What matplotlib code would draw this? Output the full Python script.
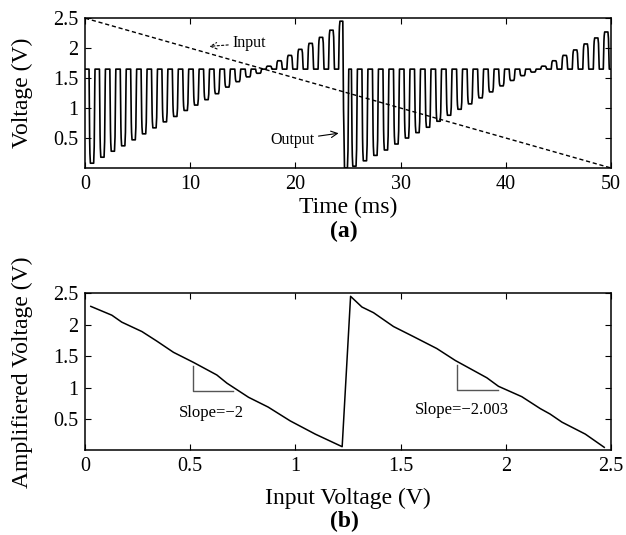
import matplotlib
matplotlib.use("Agg")
import matplotlib.pyplot as plt
import numpy as np

plt.rcParams['font.family'] = ['Liberation Serif', 'DejaVu Serif']

# (a) output pulse train: time of each pulse (ms) and its extreme voltage (V)
pulse_t = [0.65, 1.64, 2.63, 3.62, 4.61, 5.60, 6.59, 7.58, 8.57, 9.56,
           10.55, 11.54, 12.53, 13.52, 14.51, 15.50, 16.49, 17.48, 18.47, 19.46,
           20.45, 21.44, 22.43, 23.42, 24.38,
           24.78, 25.60, 26.60, 27.60, 28.60, 29.60, 30.60, 31.60, 32.60, 33.60,
           34.60, 35.60, 36.60, 37.60, 38.60, 39.60, 40.60, 41.60, 42.60, 43.60,
           44.60, 45.60, 46.60, 47.60, 48.60, 49.55]
pulse_v = [0.08, 0.18, 0.28, 0.37, 0.47, 0.57, 0.67, 0.77, 0.86, 0.96,
           1.05, 1.14, 1.24, 1.35, 1.44, 1.52, 1.58, 1.70, 1.79, 1.88,
           1.98, 2.08, 2.18, 2.30, 2.45,
           0.00, 0.03, 0.12, 0.21, 0.30, 0.40, 0.50, 0.59, 0.68, 0.78,
           0.88, 0.98, 1.07, 1.17, 1.27, 1.37, 1.46, 1.54, 1.60, 1.70,
           1.79, 1.88, 1.97, 2.07, 2.17, 2.27]
ref_level = 1.65

# input ramp (ms, V)
input_t = [0, 50]
input_v = [2.5, 0]

# (b) amplified voltage vs input voltage
vin = [0.027, 0.127, 0.174, 0.27, 0.34, 0.42, 0.515, 0.626, 0.674, 0.777,
       0.87, 0.975, 1.094, 1.222, 1.262, 1.316, 1.371, 1.466, 1.561, 1.672,
       1.76, 1.91, 1.965, 2.076, 2.164, 2.21, 2.267, 2.378, 2.468]
vamp = [2.29, 2.15, 2.04, 1.89, 1.74, 1.56, 1.40, 1.20, 1.07, 0.845,
        0.69, 0.47, 0.26, 0.06, 2.45, 2.28, 2.19, 1.97, 1.81, 1.62,
        1.43, 1.155, 1.02, 0.855, 0.665, 0.58, 0.45, 0.26, 0.05]

# pulse shape (offset from pulse centre in ms, fraction of full swing)
shape_dt = [-0.28, -0.25, -0.21, -0.16, 0.16, 0.21, 0.25, 0.28]
shape_f = [0, 0.45, 0.85, 1, 1, 0.85, 0.45, 0]

t = np.linspace(0, 50, 20001)
out = np.full_like(t, ref_level)
for tk, vk in zip(pulse_t, pulse_v):
    out += (vk - ref_level) * np.interp(t - tk, shape_dt, shape_f, left=0, right=0)

fig = plt.figure(figsize=(6.26, 5.35), dpi=100)
ax1 = fig.add_axes([0.136, 0.686, 0.840, 0.280])
ax2 = fig.add_axes([0.136, 0.158, 0.840, 0.294])

for ax in (ax1, ax2):
    ax.tick_params(direction='in', top=True, right=True, labelsize=14.5, length=4, width=0.8, pad=5)
    for s in ax.spines.values():
        s.set_linewidth(1.1)

ax1.plot(t, out, color='black', lw=1.2)
ax1.plot(input_t, input_v, color='black', lw=1.0, linestyle=(0, (3, 2)))
ax1.set_xlim(0, 50)
ax1.set_ylim(0, 2.5)
ax1.set_xticks([0, 10, 20, 30, 40, 50])
ax1.set_yticks([0.5, 1, 1.5, 2, 2.5])
ax1.set_yticklabels(['0.5', '1', '1.5', '2', '2.5'])
ax1.set_xlabel('Time (ms)', fontsize=17, labelpad=2)
ax1.set_ylabel('Voltage (V)', fontsize=17, labelpad=14)

ax1.annotate('Input', xy=(11.8, 2.03), xytext=(14.0, 2.08), fontsize=11.5, va='center', ha='left',
             arrowprops=dict(arrowstyle='->', color='black', lw=0.8, linestyle=(0, (2, 2)),
                             shrinkA=1, shrinkB=0))
ax1.annotate('Output', xy=(24.1, 0.58), xytext=(17.6, 0.47), fontsize=11.5, va='center', ha='left',
             arrowprops=dict(arrowstyle='->', color='black', lw=0.8, shrinkA=1, shrinkB=0))

ax2.plot(vin, vamp, color='black', lw=1.1)
ax2.set_xlim(0, 2.5)
ax2.set_ylim(0, 2.5)
ax2.set_xticks([0, 0.5, 1, 1.5, 2, 2.5])
ax2.set_xticklabels(['0', '0.5', '1', '1.5', '2', '2.5'])
ax2.set_yticks([0.5, 1, 1.5, 2, 2.5])
ax2.set_yticklabels(['0.5', '1', '1.5', '2', '2.5'])
ax2.set_xlabel('Input Voltage (V)', fontsize=17, labelpad=8)
ax2.set_ylabel('Amplifiered Voltage (V)', fontsize=17, labelpad=14)

# slope triangles
ax2.plot([0.515, 0.515, 0.705], [1.35, 0.94, 0.94], color='#555555', lw=1.0)
ax2.text(0.60, 0.59, 'Slope=\u22122', fontsize=12, ha='center', va='center')
ax2.plot([1.767, 1.767, 1.965], [1.36, 0.96, 0.96], color='#555555', lw=1.0)
ax2.text(1.79, 0.65, 'Slope=\u22122.003', fontsize=12, ha='center', va='center')

fig.text(0.55, 1 - 231 / 535, '(a)', fontsize=17, fontweight='bold', ha='center', va='center')
fig.text(0.55, 1 - 521 / 535, '(b)', fontsize=17, fontweight='bold', ha='center', va='center')

fig.savefig('out.png', dpi=100)
